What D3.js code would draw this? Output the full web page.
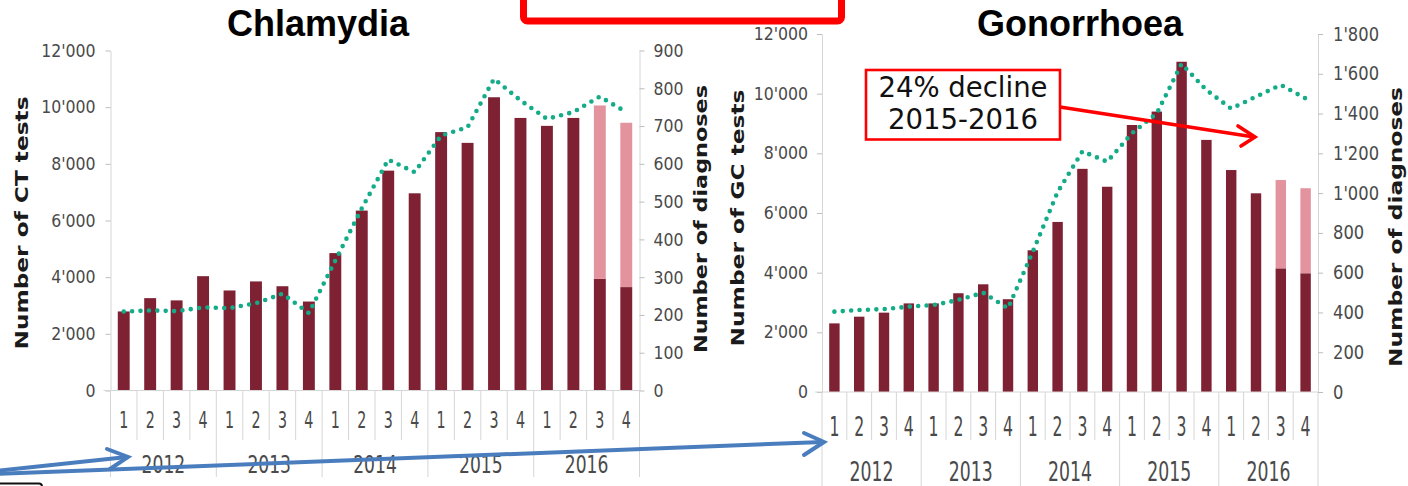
<!DOCTYPE html>
<html><head><meta charset="utf-8">
<script src="https://cdn.jsdelivr.net/npm/d3@7"></script>
<style>
html,body{margin:0;padding:0;background:#fff;}
svg{display:block;}
</style></head>
<body><svg id="c" width="1408" height="486"></svg>
<script>
// ---------- data ----------
const years = ["2012","2013","2014","2015","2016"];
const quarters = ["1","2","3","4"];
const ctTestsMain  = [2790,3260,3180,4035, 3530,3850,3680,3140, 4850,6350,7760,6960, 9120,8740,10350,9620, 9340,9620,3940,3650];
const ctTestsExtra = [0,0,0,0, 0,0,0,0, 0,0,0,0, 0,0,0,0, 0,0,6120,5800];
const ctDiagnoses  = [209,212,210,220, 218,231,256,205, 344,482,611,578, 675,697,825,768, 719,737,778,737];
const gcTestsMain  = [2300,2525,2660,2970, 2970,3310,3610,3110, 4750,5700,7480,6880, 8950,9400,11070,8450, 7440,6660,4145,3980];
const gcTestsExtra = [0,0,0,0, 0,0,0,0, 0,0,0,0, 0,0,0,0, 0,0,2960,2850];
const gcDiagnoses  = [404,412,417,429, 437,463,499,421, 705,1005,1210,1158, 1301,1401,1650,1518, 1425,1485,1544,1476];
const testTicks = [0,2000,4000,6000,8000,10000,12000];
const ctDiagTicks = [0,100,200,300,400,500,600,700,800,900];
const gcDiagTicks = [0,200,400,600,800,1000,1200,1400,1600,1800];
const annotationLines = ["24% decline","2015-2016"];

// ---------- helpers ----------
const svg = d3.select("#c");
const loc = d3.formatLocale({decimal:".", thousands:"'", grouping:[3], currency:["",""]});
const fmt = loc.format(",d");
const COL_DARK = "#7e2133", COL_PINK = "#e3939d", COL_TEAL = "#14ab88";
const GRID = "#d6d6d6", TXT = "#4a4a4a";

function drawChart(o) {
  const cats = years.flatMap(y => quarters.map(q => y + "-" + q));
  const x = d3.scaleBand().domain(cats).range([o.x0, o.x1]).padding(0);
  const xy = d3.scaleBand().domain(years).range([o.x0, o.x1]).padding(0);
  const yL = d3.scaleLinear().domain([0, 12000]).range([o.yb, o.yt]);
  const yR = d3.scaleLinear().domain([0, o.diagMax]).range([o.yb, o.yt]);
  const g = svg.append("g");
  const bw = x.bandwidth() * o.barFrac;
  const bx = c => x(c) + (x.bandwidth() - bw) / 2;

  // separators under the x axis
  const bounds = cats.map((c, i) => ({pos: x(c), year: i % 4 === 0})).concat([{pos: o.x1, year: true}]);
  g.append("g").selectAll("line").data(bounds).join("line")
    .attr("x1", d => d.pos).attr("x2", d => d.pos)
    .attr("y1", o.yb).attr("y2", d => d.year ? o.yearSepEnd : o.qSepEnd)
    .attr("stroke", GRID).attr("stroke-width", 1);

  // bars
  g.append("g").selectAll("rect").data(cats).join("rect")
    .attr("x", bx).attr("width", bw)
    .attr("y", (c, i) => yL(o.main[i])).attr("height", (c, i) => yL(0) - yL(o.main[i]))
    .attr("fill", COL_DARK);
  g.append("g").selectAll("rect").data(cats.filter((c, i) => o.extra[i] > 0)).join("rect")
    .attr("x", bx).attr("width", bw)
    .attr("y", c => { const i = cats.indexOf(c); return yL(o.main[i] + o.extra[i]); })
    .attr("height", c => { const i = cats.indexOf(c); return yL(o.main[i]) - yL(o.main[i] + o.extra[i]); })
    .attr("fill", COL_PINK);

  // axes
  const la = g.append("g").attr("transform", `translate(${o.x0},0)`)
    .call(d3.axisLeft(yL).tickValues(testTicks).tickFormat(fmt).tickSize(5).tickSizeOuter(0).tickPadding(o.lPad));
  const ra = g.append("g").attr("transform", `translate(${o.x1},0)`)
    .call(d3.axisRight(yR).tickValues(o.diagTicks).tickFormat(fmt).tickSize(5).tickSizeOuter(0).tickPadding(o.rPad));
  [la, ra].forEach(a => {
    a.select(".domain").attr("stroke", GRID);
    a.selectAll(".tick line").attr("stroke", "#bdbdbd");
  });
  la.selectAll("text").attr("font-family", "DejaVu Sans").attr("font-size", o.lFont).attr("fill", TXT)
    .attr("x", -(5 + o.lPad) / o.lSx).attr("transform", `scale(${o.lSx},1)`);
  ra.selectAll("text").attr("font-family", "DejaVu Sans").attr("font-size", o.rFont).attr("fill", TXT)
    .attr("x", (5 + o.rPad) / o.rSx).attr("transform", `scale(${o.rSx},1)`);

  const xa = g.append("g").attr("transform", `translate(0,${o.yb})`)
    .call(d3.axisBottom(x).tickSize(0).tickSizeOuter(0).tickFormat(c => c.split("-")[1]));
  xa.select(".domain").attr("stroke", GRID).attr("d", `M${o.x0 - 7},0H${o.x1}`);
  xa.selectAll("text").attr("font-family", "DejaVu Sans").attr("font-size", o.qFont).attr("fill", TXT)
    .attr("y", o.qBase - o.yb).attr("dy", null).attr("transform", `scale(${o.qSx},1)`);

  const ya = g.append("g").attr("transform", `translate(0,${o.yb})`)
    .call(d3.axisBottom(xy).tickSize(0).tickSizeOuter(0));
  ya.select(".domain").remove();
  ya.selectAll("text").attr("font-family", "DejaVu Sans").attr("font-size", o.yFont).attr("fill", TXT)
    .attr("y", o.yBase - o.yb).attr("dy", null).attr("transform", `scale(${o.ySx},1)`);

  // dotted line of diagnoses
  const line = d3.line().x((d, i) => x(cats[i]) + x.bandwidth() / 2).y(d => yR(d));
  g.append("path").datum(o.diag).attr("d", line).attr("fill", "none")
    .attr("stroke", COL_TEAL).attr("stroke-width", 4.6).attr("stroke-linecap", "round")
    .attr("stroke-dasharray", "0 8.4");

  // title
  g.append("text").attr("x", o.titleX).attr("y", 36).attr("text-anchor", "middle")
    .attr("font-family", "Liberation Sans, Arial").attr("font-weight", "bold").attr("font-size", 36)
    .attr("fill", "#000").text(o.title);

  // axis titles
  [[o.lTitle, o.lTitlePos], [o.rTitle, o.rTitlePos]].forEach(([t, p]) => {
    g.append("text").attr("transform", `translate(${p[0]},${p[1]}) rotate(-90)`)
      .attr("text-anchor", "middle").attr("dominant-baseline", "central")
      .attr("font-family", "DejaVu Sans").attr("font-weight", "bold").attr("font-size", 17)
      .attr("textLength", p[2]).attr("lengthAdjust", "spacingAndGlyphs")
      .attr("fill", "#1a1a1a").text(t);
  });
  return {x, yL, yR, g};
}

drawChart({
  title: "Chlamydia", titleX: 318,
  x0: 110.5, x1: 639.5, yt: 50.5, yb: 390.5, diagMax: 900, diagTicks: ctDiagTicks,
  main: ctTestsMain, extra: ctTestsExtra, diag: ctDiagnoses, barFrac: 0.45,
  lPad: 10, lFont: 17.5, lSx: 0.9, rPad: 9, rFont: 18.5, rSx: 0.85,
  qFont: 23, qSx: 0.62, qBase: 428, yFont: 24.5, ySx: 0.7, yBase: 473,
  qSepEnd: 440, yearSepEnd: 477,
  lTitle: "Number of CT tests", lTitlePos: [22, 223, 253],
  rTitle: "Number of diagnoses", rTitlePos: [701, 219, 268]
});

drawChart({
  title: "Gonorrhoea", titleX: 1080,
  x0: 822, x1: 1318, yt: 34, yb: 392, diagMax: 1800, diagTicks: gcDiagTicks,
  main: gcTestsMain, extra: gcTestsExtra, diag: gcDiagnoses, barFrac: 0.42,
  lPad: 9, lFont: 17.5, lSx: 0.9, rPad: 10, rFont: 19, rSx: 0.86,
  qFont: 27, qSx: 0.58, qBase: 436.5, yFont: 27, ySx: 0.64, yBase: 481,
  qSepEnd: 440, yearSepEnd: 490,
  lTitle: "Number of GC tests", lTitlePos: [738, 218, 257],
  rTitle: "Number of diagnoses", rTitlePos: [1396, 227, 280]
});

// ---------- annotations ----------
const RED = "#ff0000", BLUE = "#4a7dbd";
// partial red box at top
svg.append("rect").attr("x", 523.5).attr("y", -30).attr("width", 318).attr("height", 51)
  .attr("rx", 4).attr("fill", "none").attr("stroke", RED).attr("stroke-width", 7);

// decline box
svg.append("rect").attr("x", 866).attr("y", 70).attr("width", 194).attr("height", 69.5)
  .attr("fill", "#fff").attr("stroke", RED).attr("stroke-width", 2.6);
svg.append("g").selectAll("text").data(annotationLines).join("text")
  .attr("x", 963).attr("y", (d, i) => 97 + i * 31.5).attr("text-anchor", "middle")
  .attr("font-family", "DejaVu Sans").attr("font-size", 27.5).attr("fill", "#111").text(d => d);
// red arrow
svg.append("path").attr("d", "M1060,107 L1254,137").attr("stroke", RED).attr("stroke-width", 3.6)
  .attr("fill", "none");
svg.append("path").attr("d", "M1238,126 L1255,137 L1241,146").attr("stroke", RED).attr("stroke-width", 3.6)
  .attr("fill", "none").attr("stroke-linejoin", "miter").attr("stroke-linecap", "round");

// blue arrows
svg.append("path").attr("d", "M-5,471 L127,457").attr("stroke", BLUE).attr("stroke-width", 4).attr("fill", "none");
svg.append("path").attr("d", "M107,449 L128,457 L110,469").attr("stroke", BLUE).attr("stroke-width", 4)
  .attr("fill", "none").attr("stroke-linecap", "round");
svg.append("path").attr("d", "M-5,474 L823,442").attr("stroke", BLUE).attr("stroke-width", 4).attr("fill", "none");
svg.append("path").attr("d", "M804,433 L824,442 L804,455").attr("stroke", BLUE).attr("stroke-width", 4)
  .attr("fill", "none").attr("stroke-linecap", "round");

// black frame edge at bottom-left
svg.append("rect").attr("x", -6).attr("y", 483.5).attr("width", 48).attr("height", 12).attr("rx", 3)
  .attr("fill", "#fff").attr("stroke", "#111").attr("stroke-width", 2);
</script>
</body></html>
